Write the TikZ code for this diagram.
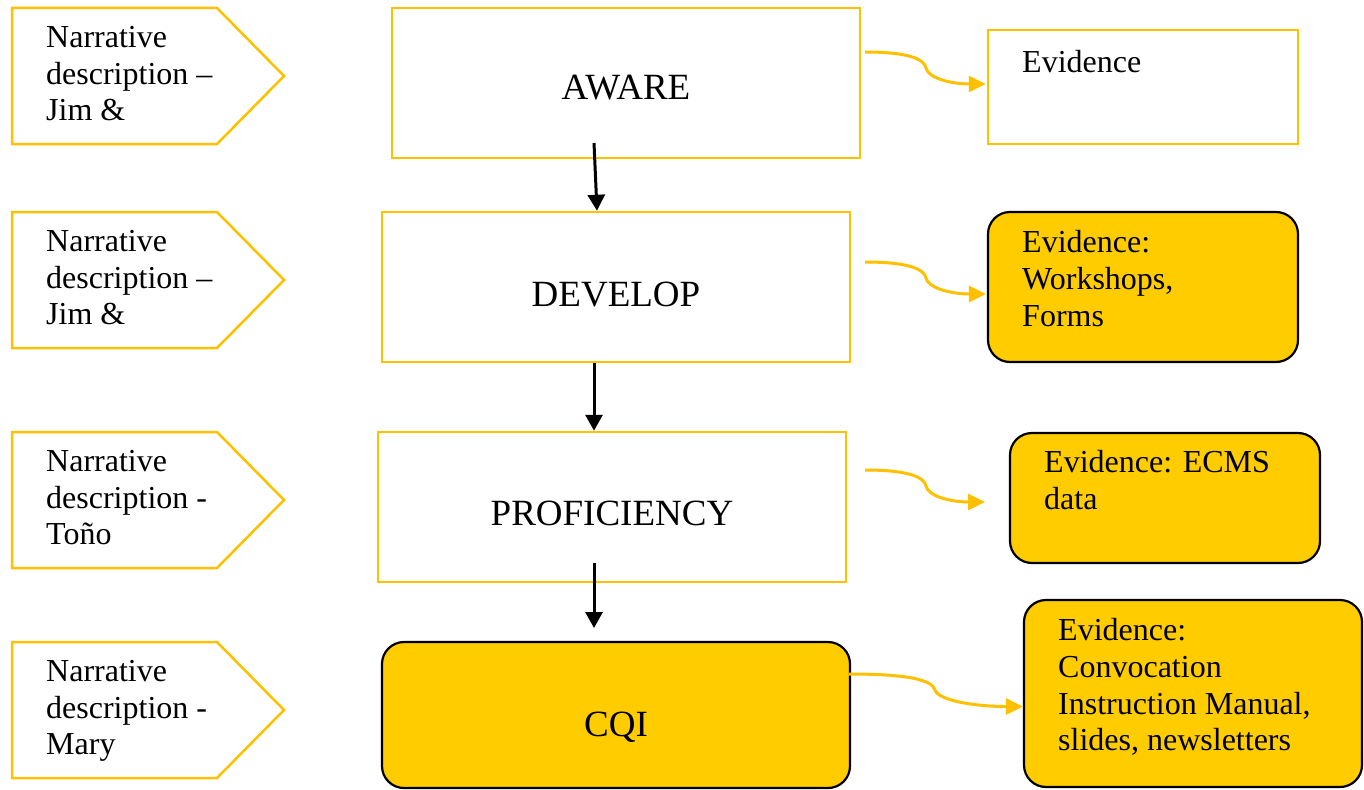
\documentclass[tikz,border=0pt]{standalone}
\usepackage{fontspec}
\setmainfont{Liberation Serif}
\usetikzlibrary{arrows.meta,calc}
\definecolor{gold}{HTML}{FFC000}
\definecolor{fillgold}{HTML}{FFCC00}
\begin{document}
\begin{tikzpicture}[x=1pt,y=-1pt,
  txt/.style={font=\fontsize{32}{36.8}\selectfont, inner sep=0pt, align=left, anchor=north west},
  bigtxt/.style={font=\fontsize{37}{42}\selectfont, inner sep=0pt, anchor=base},
  pent/.style={draw=gold, line width=2.5pt, line join=miter},
  cbox/.style={rectangle, draw=gold, line width=2.5pt, fill=white, minimum width=468pt, minimum height=150pt, inner sep=0pt},
  wbox/.style={rectangle, draw=gold, line width=2.5pt, fill=white, inner sep=0pt},
  fbox/.style={rectangle, draw=black, line width=2.2pt, fill=fillgold, rounded corners=22pt, inner sep=0pt},
  blk/.style={draw=black, line width=3pt, -{Triangle[length=16pt,width=17pt]}},
  conn/.style={draw=gold, line width=3pt, -{Triangle[length=17pt,width=16pt]}}
]
\useasboundingbox (0,0) rectangle (1364,789);

% left pentagon arrows
\draw[pent] (12,8) -- (217,8) -- (284,76) -- (217,144) -- (12,144) -- cycle;
\draw[pent] (12,212) -- (217,212) -- (284,280) -- (217,348) -- (12,348) -- cycle;
\draw[pent] (12,432) -- (217,432) -- (284,500) -- (217,568) -- (12,568) -- cycle;
\draw[pent] (12,642) -- (217,642) -- (284,710) -- (217,778) -- (12,778) -- cycle;
\node[txt] (n1) at (46,26) {Narrative\\description –\\Jim \&};
\node[txt] (n2) at (46,230) {Narrative\\description –\\Jim \&};
\node[txt] (n3) at (46,450) {Narrative\\description -\\Toño};
\node[txt] (n4) at (46,660) {Narrative\\description -\\Mary};

% center boxes
\node[cbox] (aware) at (626,83) {};
\node[cbox] (develop) at (616,287) {};
\node[cbox] (proficiency) at (612,507) {};
\node[fbox, minimum width=468pt, minimum height=146pt] (cqi) at (616,715) {};
\node[bigtxt] (awaret) at (626,100) {AWARE};
\node[bigtxt] (developt) at (616,306) {DEVELOP};
\node[bigtxt] (proficiencyt) at (612,525) {PROFICIENCY};
\node[bigtxt] (cqit) at (616,736) {CQI};

% evidence boxes
\node[wbox, minimum width=310pt, minimum height=114pt] (e1) at (1143,87) {};
\node[fbox, minimum width=310pt, minimum height=150pt] (e2) at (1143,287) {};
\node[fbox, minimum width=310pt, minimum height=130pt] (e3) at (1165,498) {};
\node[fbox, minimum width=338pt, minimum height=187pt] (e4) at (1193,693.5) {};
\node[txt] (e1t) at (1022,50) {Evidence};
\node[txt] (e2t) at (1022,230) {Evidence:\\Workshops,\\Forms};
\node[txt] (e3t) at (1044,450) {Evidence: ECMS\\data};
\node[txt] (e4t) at (1058,618) {Evidence:\\Convocation\\Instruction Manual,\\slides, newsletters};

% black arrows
\coordinate (a1s) at (594,143);
\draw[blk] (a1s) -- ($(develop.north)+(-19,0)$);
\draw[blk] ($(develop.south)+(-22,0)$) -- ($(proficiency.north)+(-18,0)$);
\coordinate (a3s) at (594,563);
\coordinate (a3e) at (594,628);
\draw[blk] (a3s) -- (a3e);

% yellow curved connectors
\coordinate (c1s) at (865,52);
\coordinate (c1k) at (926,68);
\draw[conn] (c1s) .. controls +(40,0) and +(-2,-10) .. (c1k) .. controls +(2,10) and +(-35,0) .. ($(e1.west)+(-1,-3)$);
\coordinate (c2s) at (865,262);
\coordinate (c2k) at (926,278);
\draw[conn] (c2s) .. controls +(40,0) and +(-2,-10) .. (c2k) .. controls +(2,10) and +(-35,0) .. ($(e2.west)+(-1,7)$);
\coordinate (c3s) at (865,470);
\coordinate (c3k) at (926,486);
\coordinate (c3e) at (985,502);
\draw[conn] (c3s) .. controls +(40,0) and +(-2,-10) .. (c3k) .. controls +(2,10) and +(-35,0) .. (c3e);
\coordinate (c4k) at (935,690);
\draw[conn] ($(cqi.east)+(-2,-41)$) .. controls +(60,0) and +(-3,-10) .. (c4k) .. controls +(3,10) and +(-50,0) .. ($(e4.west)+(0,13)$);
\end{tikzpicture}
\end{document}
